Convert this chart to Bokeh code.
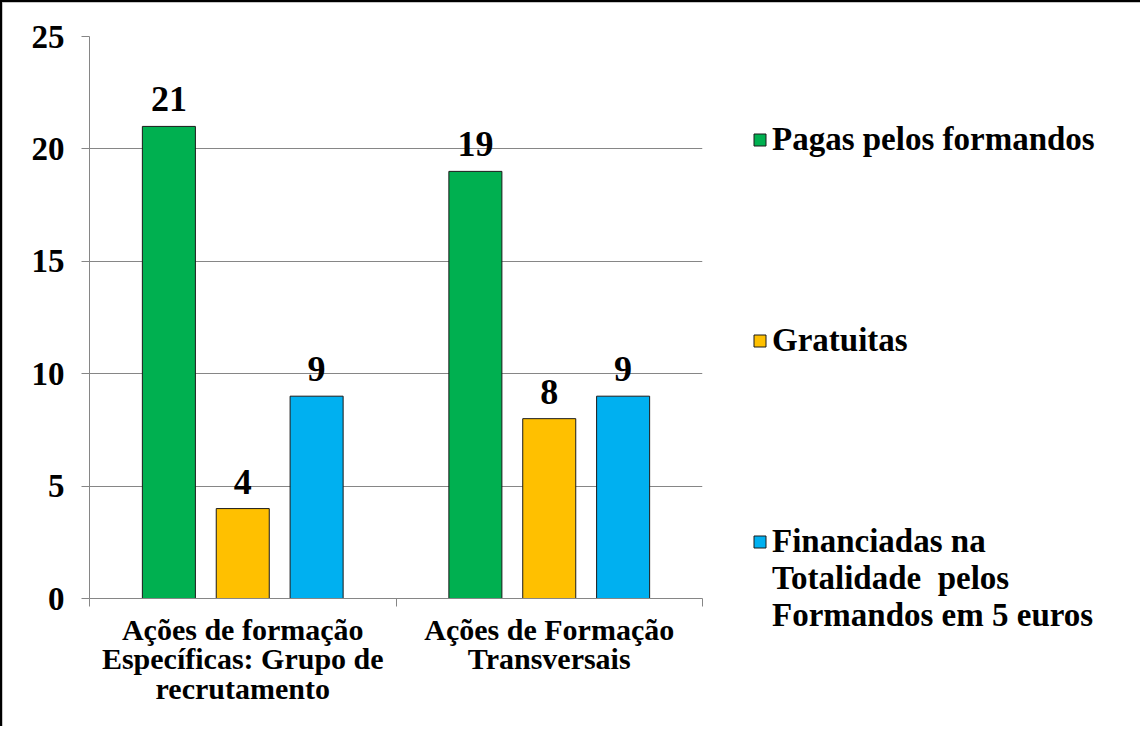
from bokeh.plotting import figure
from bokeh.models import ColumnDataSource, Legend, LegendItem, FixedTicker
from bokeh.core.properties import value
from bokeh.embed import file_html
from bokeh.resources import INLINE

categories = ["Ações de formação\nEspecíficas: Grupo de\nrecrutamento",
              "Ações de Formação\nTransversais"]
series_names = ["Pagas pelos formandos", "Gratuitas",
                "Financiadas na\nTotalidade  pelos\nFormandos em 5 euros"]
pagas = [21, 19]
gratuitas = [4, 8]
financiadas = [9, 9]
series_values = [pagas, gratuitas, financiadas]
colors = ["#00B050", "#FFC000", "#00B0F0"]
y_ticks = [0, 5, 10, 15, 20, 25]

FONT = "Liberation Serif"


def legend_label(name):
    # pad with blank lines so that the square sits beside the first line
    lines = name.split("\n")
    pad_below = max(0, 2 - (len(lines) - 1))
    return "\n".join([" ", " "] + lines + [" "] * pad_below)


p = figure(frame_width=613, frame_height=562,
           x_range=(0, len(categories)), y_range=(0, 25),
           output_backend="svg", toolbar_location=None,
           min_border_left=87, min_border_top=34,
           min_border_right=425, min_border_bottom=128)
p.styles = {"border-left": "2px solid #000", "border-top": "2px solid #000",
            "box-shadow": "inset 3px 3px 0 -1px #b4b4b4"}
p.outline_line_color = None
p.background_fill_color = "white"
p.border_fill_color = "white"

offsets = [-0.241, 0.0, 0.241]
width = 0.173
items = []
for j, (name, vals, col) in enumerate(zip(series_names, series_values, colors)):
    xs = [i + 0.5 + offsets[j] for i in range(len(categories))]
    src = ColumnDataSource(dict(x=xs, top=vals, lab=[str(v) for v in vals]))
    r = p.vbar(x="x", top="top", width=width, source=src, fill_color=col,
               line_color="#1a1a1a", line_width=1)
    p.text(x="x", y="top", text="lab", source=src, text_align="center",
           text_baseline="bottom", y_offset=-15, text_font=value(FONT),
           text_font_style="bold", text_font_size="36px", text_color="black")
    items.append(LegendItem(label=legend_label(name), renderers=[r]))

# axes
p.yaxis.ticker = FixedTicker(ticks=y_ticks, minor_ticks=[])
p.yaxis.axis_line_color = "#868686"
p.yaxis.major_tick_line_color = "#868686"
p.yaxis.major_tick_out = 8
p.yaxis.major_tick_in = 0
p.yaxis.minor_tick_line_color = None
p.yaxis.major_label_text_font = FONT
p.yaxis.major_label_text_font_style = "bold"
p.yaxis.major_label_text_font_size = "33px"
p.yaxis.major_label_text_color = "black"
p.yaxis.major_label_standoff = 17

p.xaxis.ticker = FixedTicker(ticks=[i + 0.5 for i in range(len(categories))],
                             minor_ticks=list(range(len(categories) + 1)))
p.xaxis.major_label_overrides = {i + 0.5: c for i, c in enumerate(categories)}
p.xaxis.axis_line_color = "#868686"
p.xaxis.major_tick_line_color = None
p.xaxis.minor_tick_line_color = "#868686"
p.xaxis.minor_tick_out = 8
p.xaxis.minor_tick_in = 0
p.xaxis.major_label_text_font = FONT
p.xaxis.major_label_text_font_style = "bold"
p.xaxis.major_label_text_font_size = "30px"
p.xaxis.major_label_text_line_height = 0.9
p.xaxis.major_label_text_color = "black"
p.xaxis.major_label_standoff = 6

p.xgrid.grid_line_color = None
p.ygrid.grid_line_color = "#868686"
p.ygrid.ticker = FixedTicker(ticks=y_ticks)

legend = Legend(items=items, location=(50, -36), spacing=16,
                glyph_width=15, glyph_height=15, label_standoff=5,
                label_text_font=FONT, label_text_font_style="bold",
                label_text_font_size="33px", label_text_line_height=0.8,
                label_text_color="black",
                border_line_color=None, background_fill_alpha=0, padding=0,
                margin=0)
p.add_layout(legend, "right")

open("out.html", "w").write(file_html(p, INLINE))
